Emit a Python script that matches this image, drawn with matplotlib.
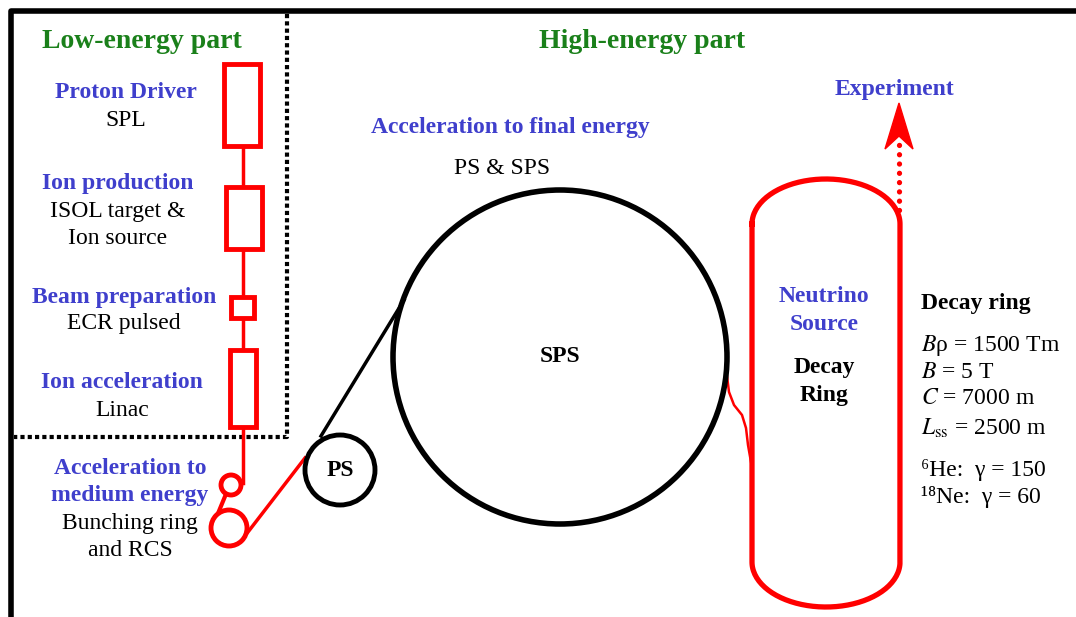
import numpy as np
import matplotlib.pyplot as plt
from matplotlib.patches import Circle, Rectangle, Polygon

plt.rcParams['font.family'] = ['Liberation Serif', 'DejaVu Serif']
plt.rcParams['mathtext.fontset'] = 'stix'

RED = '#ff0000'
BLUE = '#3f3fcc'
GREEN = '#1a801a'

# geometry of the schematic (pixel coordinates, y downwards)
frame_x = [1076, 11, 11]
frame_y = [11, 11, 617]
divider_x = [287, 287, 14]
divider_y = [14, 437, 437]

# linac column boxes: (x0, y0, x1, y1)
boxes = [(224, 64, 260, 146), (226, 187, 262, 249), (231, 297, 254, 318), (230, 350, 256, 427)]
column_x = 243
column_y = [64, 483]

rings = {'small': (231, 485, 10), 'rcs': (229, 528, 18), 'ps': (340, 470, 35), 'sps': (560, 357, 167)}
link_small = ([226, 219], [494, 511])
transfer_red = ([248, 305], [532, 458])
transfer_black = ([321, 404], [436, 300])
inject_x = [726, 729, 734, 742, 746, 748, 751]
inject_y = [368, 392, 405, 415, 428, 445, 462]

# decay ring racetrack
ring_left, ring_right = 752, 900
ring_top, ring_bottom = 179, 607
ring_arc = 45

exp_x = 899
exp_dots_y = [210, 136]
exp_head = [(899, 103), (885, 149), (899, 136), (913, 149)]

# labels: (x, y, text, colour, bold, size)
labels = [
    (142, 42, 'Low-energy part', GREEN, True, 20),
    (642, 42, 'High-energy part', GREEN, True, 20),
    (126, 92, 'Proton Driver', BLUE, True, 17),
    (126, 120, 'SPL', 'black', False, 17),
    (118, 183, 'Ion production', BLUE, True, 17),
    (118, 211, 'ISOL target &', 'black', False, 17),
    (118, 238, 'Ion source', 'black', False, 17),
    (124, 297, 'Beam preparation', BLUE, True, 17),
    (124, 324, 'ECR pulsed', 'black', False, 17),
    (122, 383, 'Ion acceleration', BLUE, True, 17),
    (122, 410, 'Linac', 'black', False, 17),
    (130, 468, 'Acceleration to', BLUE, True, 17),
    (130, 495, 'medium energy', BLUE, True, 17),
    (130, 524, 'Bunching ring', 'black', False, 17),
    (130, 551, 'and RCS', 'black', False, 17),
    (510, 127, 'Acceleration to final energy', BLUE, True, 17),
    (502, 168, 'PS & SPS', 'black', False, 17),
    (560, 357, 'SPS', 'black', True, 17),
    (340, 470, 'PS', 'black', True, 17),
    (824, 297, 'Neutrino', BLUE, True, 17),
    (824, 325, 'Source', BLUE, True, 17),
    (824, 368, 'Decay', 'black', True, 17),
    (824, 396, 'Ring', 'black', True, 17),
    (894, 90, 'Experiment', BLUE, True, 17),
]
params_x = 921
params = [
    (303, 'Decay ring', True),
    (345, r'$B$ρ = 1500 Tm', False),
    (372, r'$B$ = 5 T', False),
    (399, r'$C$ = 7000 m', False),
    (428, r'$L_{\mathrm{ss}}$ = 2500 m', False),
    (470, '⁶He:  γ = 150', False),
    (497, '¹⁸Ne:  γ = 60', False),
]

fig = plt.figure(figsize=(10.76, 6.17), dpi=100)
ax = fig.add_axes([0, 0, 1, 1])
ax.set_xlim(0, 1076)
ax.set_ylim(617, 0)
ax.axis('off')

ax.plot(frame_x, frame_y, color='black', lw=4, solid_capstyle='butt')
ax.plot(divider_x, divider_y, color='black', lw=3, linestyle=(0, (1, 0.75)), dash_capstyle='butt')

# linac column
ax.plot([column_x, column_x], column_y, color=RED, lw=2.5, zorder=2)
for x0, y0, x1, y1 in boxes:
    ax.add_patch(Rectangle((x0, y0), x1 - x0, y1 - y0, fc='white', ec=RED, lw=3.5, zorder=3))
ax.plot(*link_small, color=RED, lw=3)
ax.plot(*transfer_red, color=RED, lw=2.5)
ax.plot(*transfer_black, color='black', lw=2.5)
ax.plot(inject_x, inject_y, color=RED, lw=1.8)

for name, (cx, cy, r) in rings.items():
    col = RED if name in ('small', 'rcs') else 'black'
    lw = 3.5 if name != 'sps' else 4
    ax.add_patch(Circle((cx, cy), r, fc='none', ec=col, lw=lw, zorder=3))

# racetrack decay ring
cx = (ring_left + ring_right) / 2
a = (ring_right - ring_left) / 2
t = np.linspace(np.pi, 2 * np.pi, 80)
top_x = cx + a * np.cos(t)
top_y = ring_top + ring_arc + ring_arc * np.sin(t)
t2 = np.linspace(0, np.pi, 80)
bot_x = cx + a * np.cos(t2)
bot_y = ring_bottom - ring_arc + ring_arc * np.sin(t2)
rx = np.concatenate([top_x, bot_x, top_x[:1]])
ry = np.concatenate([top_y, bot_y, top_y[:1]])
ax.plot(rx, ry, color=RED, lw=3.8, solid_joinstyle='round')

# extraction to experiment
ax.plot([exp_x, exp_x], exp_dots_y, color=RED, lw=3.8, linestyle=(0, (0.01, 1.75)), dash_capstyle='round')
ax.add_patch(Polygon(exp_head, closed=True, fc=RED, ec=RED, lw=1))

for x, y, s, c, b, fs in labels:
    ax.text(x, y, s, color=c, fontsize=fs, fontweight='bold' if b else 'normal',
            ha='center', va='center')
for y, s, b in params:
    ax.text(params_x, y, s, color='black', fontsize=17,
            fontweight='bold' if b else 'normal', ha='left', va='center')

plt.savefig('out.png', dpi=100)
